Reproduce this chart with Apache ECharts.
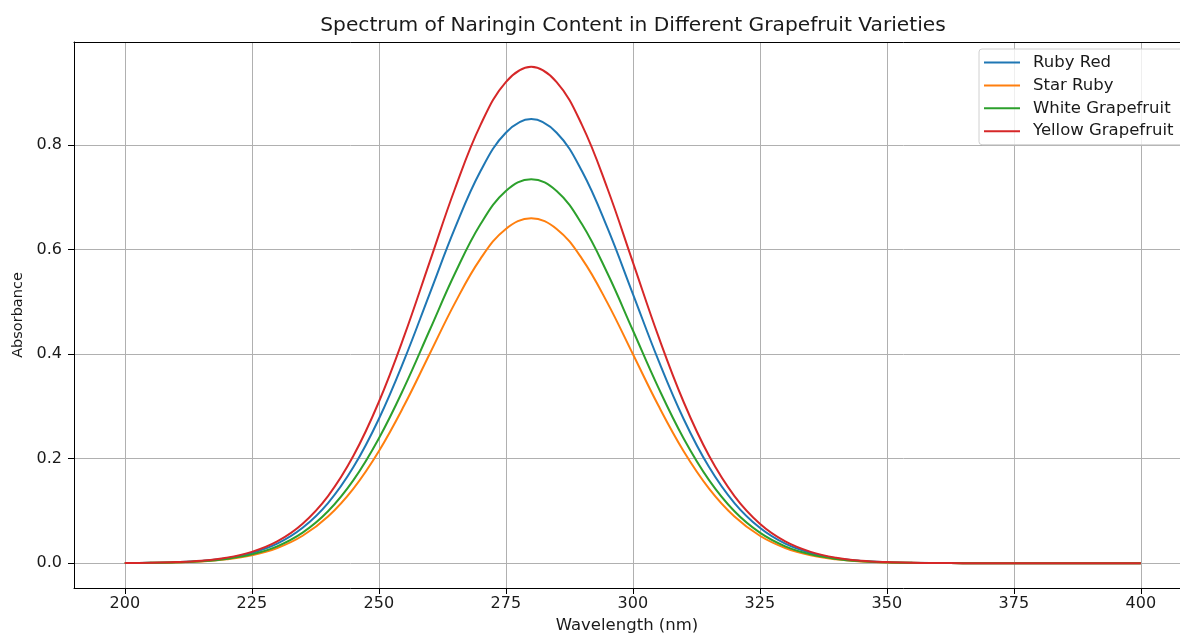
<!DOCTYPE html>
<html>
<head>
<meta charset="utf-8">
<title>Spectrum of Naringin Content</title>
<script src="https://cdn.jsdelivr.net/npm/echarts@6/dist/echarts.min.js"></script>
<style>
	html, body { margin: 0; padding: 0; background: #fff; }
	#chart { width: 1180px; height: 633px; }
</style>
</head>
<body>
<div id="chart"></div>
<script>
// wavelength samples (nm)
const wavelengths = [
	200, 205, 210, 215, 220, 225, 230, 235, 240, 245, 250, 255, 260, 265, 270, 275, 280,
	285, 290, 295, 300, 305, 310, 315, 320, 325, 330, 335, 340, 345, 350, 355, 360,
	365, 370, 375, 380, 385, 390, 395, 400,
];

const rubyRed = [
	0.0003, 0.0007, 0.0019, 0.0043, 0.0094, 0.0194, 0.0373, 0.0677, 0.1150, 0.1839, 0.2760, 0.3891, 0.5155, 0.6416, 0.7501, 0.8238, 0.8500,
	0.8238, 0.7501, 0.6416, 0.5155, 0.3891, 0.2760, 0.1839, 0.1150, 0.0677, 0.0373, 0.0194, 0.0094, 0.0043, 0.0019, 0.0007, 0.0003,
	0.0001, 0, 0, 0, 0, 0, 0, 0,
];
const starRuby = [
	0.0002, 0.0006, 0.0014, 0.0034, 0.0073, 0.0150, 0.0290, 0.0525, 0.0893, 0.1428, 0.2143, 0.3021, 0.4003, 0.4982, 0.5825, 0.6397, 0.6600,
	0.6397, 0.5825, 0.4982, 0.4003, 0.3021, 0.2143, 0.1428, 0.0893, 0.0525, 0.0290, 0.0150, 0.0073, 0.0034, 0.0014, 0.0006, 0.0002,
	0.0001, 0, 0, 0, 0, 0, 0, 0,
];
const whiteGrapefruit = [
	0.0002, 0.0006, 0.0016, 0.0037, 0.0082, 0.0168, 0.0323, 0.0585, 0.0994, 0.1590, 0.2387, 0.3365, 0.4458, 0.5548, 0.6486, 0.7124, 0.7350,
	0.7124, 0.6486, 0.5548, 0.4458, 0.3365, 0.2387, 0.1590, 0.0994, 0.0585, 0.0323, 0.0168, 0.0082, 0.0037, 0.0016, 0.0006, 0.0002,
	0.0001, 0, 0, 0, 0, 0, 0, 0,
];
const yellowGrapefruit = [
	0.0003, 0.0008, 0.0021, 0.0048, 0.0105, 0.0217, 0.0417, 0.0756, 0.1285, 0.2055, 0.3085, 0.4349, 0.5762, 0.7171, 0.8384, 0.9207, 0.9500,
	0.9207, 0.8384, 0.7171, 0.5762, 0.4349, 0.3085, 0.2055, 0.1285, 0.0756, 0.0417, 0.0217, 0.0105, 0.0048, 0.0021, 0.0008, 0.0003,
	0.0001, 0, 0, 0, 0, 0, 0, 0,
];

const seriesNames = ["Ruby Red", "Star Ruby", "White Grapefruit", "Yellow Grapefruit"];
const seriesValues = [rubyRed, starRuby, whiteGrapefruit, yellowGrapefruit];
const colors = ["#1f77b4", "#ff7f0e", "#2ca02c", "#d62728"];

// tick labels
const xTicks = [200, 225, 250, 275, 300, 325, 350, 375, 400];
const yTicks = [0, 0.2, 0.4, 0.6, 0.8];

const font = "DejaVu Sans";
const textColor = "#1a1a1a";
const chart = echarts.init(document.getElementById("chart"), null, { renderer: "canvas" });

chart.setOption({
	animation: false,
	backgroundColor: "#fff",
	title: {
		text: "Spectrum of Naringin Content in Different Grapefruit Varieties",
		left: 633,
		textAlign: "center",
		top: 16,
		padding: 0,
		textStyle: { fontFamily: font, fontSize: 20.2, fontWeight: "normal", color: textColor },
	},
	legend: {
		orient: "vertical",
		left: 979,
		top: 49,
		padding: [5, 40, 5, 5],
		itemWidth: 36,
		itemHeight: 14,
		itemGap: 5.9,
		icon: "path://M0,0h36v2h-36z",
		borderColor: "#d0d0d0",
		borderWidth: 1,
		borderRadius: 3,
		backgroundColor: "rgba(255,255,255,0.8)",
		textStyle: { fontFamily: font, fontSize: 16.5, color: textColor, padding: [0, 0, 0, 8] },
		data: seriesNames,
	},
	// the x axis title is cut by the bottom edge, as in the picture
	grid: { left: 74, right: 0, top: 42, bottom: 45, containLabel: false, outerBoundsMode: "none" },
	xAxis: [
		{
			type: "value",
			min: 190,
			max: 407.7,
			name: "Wavelength (nm)",
			nameLocation: "middle",
			nameGap: 29,
			nameTextStyle: { fontFamily: font, fontSize: 16.5, color: textColor },
			axisLine: { show: true, onZero: false, lineStyle: { color: "#000", width: 1 } },
			axisTick: { show: true, length: 6, customValues: xTicks, lineStyle: { color: "#000" } },
			axisLabel: {
				customValues: xTicks,
				margin: 8,
				fontFamily: font,
				fontSize: 16,
				color: textColor,
			},
			splitLine: { show: true, lineStyle: { color: "#b0b0b0", width: 1 } },
		},
		{
			// top spine only
			type: "value",
			position: "top",
			min: 190,
			max: 407.7,
			axisLine: { show: true, onZero: false, lineStyle: { color: "#000", width: 1 } },
			axisTick: { show: false },
			axisLabel: { show: false },
			splitLine: { show: false },
		},
	],
	yAxis: {
		type: "value",
		min: -0.0475,
		max: 0.9975,
		name: "Absorbance",
		nameLocation: "middle",
		nameGap: 48,
		nameTextStyle: { fontFamily: font, fontSize: 14.5, color: textColor },
		axisLine: { show: true, onZero: false, lineStyle: { color: "#000", width: 1 } },
		axisTick: { show: true, length: 6, customValues: yTicks, lineStyle: { color: "#000" } },
		axisLabel: {
			customValues: yTicks,
			margin: 12,
			fontFamily: font,
			fontSize: 16,
			color: textColor,
			formatter: (v) => v.toFixed(1),
		},
		splitLine: { show: true, lineStyle: { color: "#b0b0b0", width: 1 } },
	},
	series: seriesNames.map((name, i) => ({
		name: name,
		type: "line",
		symbol: "none",
		smooth: 0.4,
		color: colors[i],
		lineStyle: { width: 2, color: colors[i] },
		data: wavelengths.map((w, j) => [w, seriesValues[i][j]]),
	})),
});
</script>
</body>
</html>
